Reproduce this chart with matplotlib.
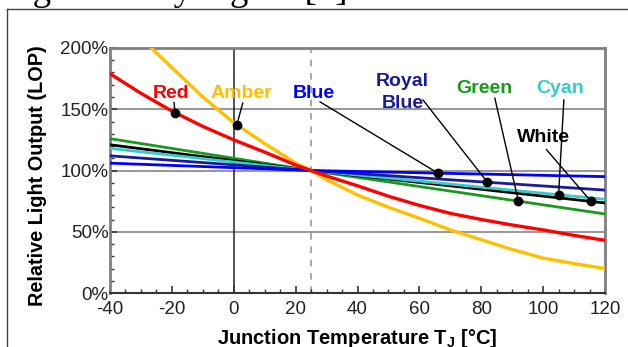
import numpy as np
import matplotlib
matplotlib.use('Agg')
import matplotlib.pyplot as plt
from matplotlib.lines import Line2D

plt.rcParams['font.family'] = ['Liberation Sans', 'DejaVu Sans']
plt.rcParams['mathtext.fontset'] = 'custom'
plt.rcParams['mathtext.rm'] = 'Liberation Sans'
plt.rcParams['mathtext.bf'] = 'Liberation Sans:bold'
plt.rcParams['axes.unicode_minus'] = False

# DATOS
t_full = [-40, -30, -20, -10, 0, 10, 20, 25, 30, 40, 50, 60, 70, 80, 90, 100, 110, 120]
red = [179, 163, 148.5, 136, 125, 115, 104.5, 100, 95.5, 87.5, 79, 71.5, 65, 60, 55.5, 51.5, 47, 43]
amber = [232, 208, 184, 160, 139, 122, 106, 100, 92.5, 80, 70, 61, 51.5, 43.5, 35.5, 28.5, 24, 20]

t_lin = [-40, 25, 120]
green = [126, 100, 64.5]
white = [121, 100, 73.5]
cyan = [118, 100, 76.5]
royal = [112, 100, 84]
blue = [106, 100, 95]

# etiquetas: nombre, posición del texto, T del marcador, fin de la línea guía
labels = ['Red', 'Amber', 'Blue', 'Royal\nBlue', 'Green', 'Cyan', 'White']
label_xy = [(-20.3, 163), (2.5, 163), (26, 163), (54.5, 163.5), (81, 167), (105.5, 167), (100, 127)]
marker_t = [-19, 1, 66, 82, 92, 105, 115.5]
leader_end = [(-19.3, 155.5), (2.9, 155), (27.9, 156), (61.2, 157.5), (84.4, 159), (106.7, 157.5), (101.1, 117)]

c_red = '#FF0000'
c_amber = '#FFC000'
c_blue = '#0000FF'
c_royal = '#1A1A9A'
c_green = '#1A9A1A'
c_cyan = '#33CCCC'
c_white = '#000000'

series = {
    'Red': (t_full, red, c_red),
    'Amber': (t_full, amber, c_amber),
    'Blue': (t_lin, blue, c_blue),
    'Royal\nBlue': (t_lin, royal, c_royal),
    'Green': (t_lin, green, c_green),
    'Cyan': (t_lin, cyan, c_cyan),
    'White': (t_lin, white, c_white),
}

fig = plt.figure(figsize=(6.28, 3.47), dpi=100)
ax = fig.add_axes([110 / 628, 54 / 347, 495 / 628, 245 / 347])

# rejilla y referencias
for yv in [50, 100, 150]:
    ax.axhline(yv, color='#999999', lw=1.5, zorder=1)
ax.axvline(0, color='#222222', lw=1.1, zorder=1)
ax.axvline(25, color='#999999', lw=1.2, ls=(0, (4, 4)), zorder=1)

# curvas
ax.plot(t_lin, green, color=c_green, lw=2, zorder=3)
ax.plot(t_lin, white, color=c_white, lw=2, zorder=3)
ax.plot(t_lin, cyan, color=c_cyan, lw=2, zorder=3)
ax.plot(t_lin, royal, color=c_royal, lw=2, zorder=3)
ax.plot(t_lin, blue, color=c_blue, lw=2, zorder=3)
ax.plot(t_full, amber, color=c_amber, lw=2.4, zorder=4)
ax.plot(t_full, red, color=c_red, lw=2.4, zorder=5)

# etiquetas con marcadores y líneas guía
for name, (lx, ly), mt, (ex, ey) in zip(labels, label_xy, marker_t, leader_end):
    tx, ty, col = series[name]
    my = np.interp(mt, tx, ty)
    ax.plot([mt, ex], [my, ey], color='black', lw=1, zorder=6)
    ax.plot(mt, my, 'o', color='black', ms=6, zorder=7)
    ax.text(lx, ly, name, color=col, fontsize=14, fontweight='bold',
            ha='center', va='center', linespacing=1.4, zorder=8)

ax.set_xlim(-40, 120)
ax.set_ylim(0, 200)
ax.set_xticks(np.arange(-40, 121, 20))
ax.set_xticks(np.arange(-40, 121, 5), minor=True)
ax.set_yticks([0, 50, 100, 150, 200])
ax.set_yticks(np.arange(0, 201, 10), minor=True)
ax.set_yticklabels(['0%', '50%', '100%', '150%', '200%'])
ax.tick_params(axis='both', which='major', direction='in', length=5, width=1.2,
               color='#333333', labelsize=13.5, labelcolor='#222222')
ax.tick_params(axis='both', which='minor', direction='in', length=3, width=1, color='#333333')
ax.tick_params(axis='y', pad=1)
ax.tick_params(axis='x', pad=6)

for s in ['left', 'top', 'right']:
    ax.spines[s].set_color('#808080')
    ax.spines[s].set_linewidth(2)
ax.spines['bottom'].set_color('#333333')
ax.spines['bottom'].set_linewidth(1.5)

ax.set_ylabel('Relative Light Output (LOP)', fontsize=14.3, fontweight='bold')
ax.set_xlabel(r'Junction Temperature T$_{\mathbf{J}}$ [°C]', fontsize=14.5,
              fontweight='bold')
ax.yaxis.set_label_coords(-63 / 495, 0.48)
ax.xaxis.set_label_coords(0.5, -34 / 245)

# marco exterior del documento y texto recortado arriba
fig.add_artist(Line2D([7 / 628, 7 / 628], [0, 1 - 9 / 347], color='#444444', lw=1,
                      transform=fig.transFigure))
fig.add_artist(Line2D([7 / 628, 1], [1 - 9 / 347, 1 - 9 / 347], color='#444444', lw=1,
                      transform=fig.transFigure))
fig.text(8 / 628, 1 - 0.5 / 347, 'significantly higher [1].', fontsize=26.5,
         family='Liberation Serif', ha='left', va='baseline')

fig.savefig('out.png', dpi=100)
